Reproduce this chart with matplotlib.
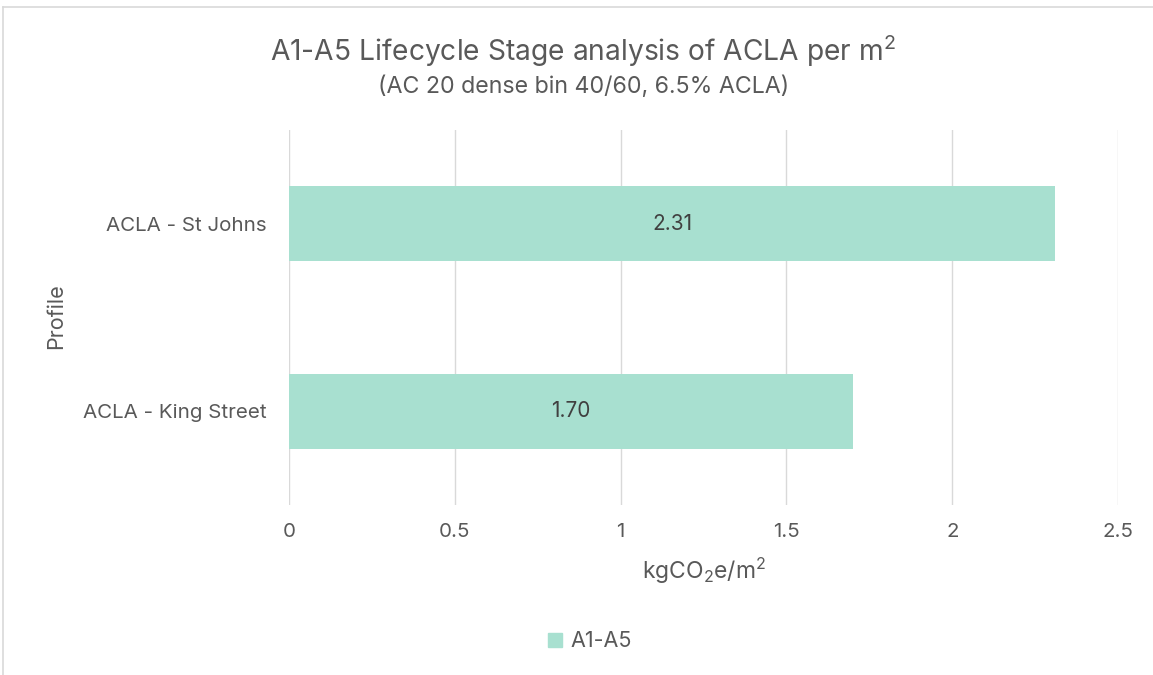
import matplotlib.pyplot as plt
from matplotlib.lines import Line2D
from matplotlib.patches import Patch

plt.rcParams['font.family'] = ['Inter', 'DejaVu Sans']
plt.rcParams['mathtext.fontset'] = 'custom'
plt.rcParams['mathtext.rm'] = 'Inter'

profiles = ['ACLA - King Street', 'ACLA - St Johns']
values = [1.70, 2.31]
xticks = [0, 0.5, 1, 1.5, 2, 2.5]
xticklabels = ['0', '0.5', '1', '1.5', '2', '2.5']

bar_color = '#A8E0D0'
text_color = '#595959'
grid_color = '#D9D9D9'

fig = plt.figure(figsize=(11.53, 6.75), dpi=100)
ax = fig.add_axes([0.2507, 0.252, 0.7190, 0.555])

ypos = list(range(len(profiles)))
ax.barh(ypos, values, height=0.4, color=bar_color, zorder=3)
for y, v in zip(ypos, values):
    ax.text(v / 2, y, '%.2f' % v, ha='center', va='center', fontsize=15, color='#404040', zorder=4)

ax.set_xlim(0, 2.5)
ax.set_ylim(-0.5, 1.5)
ax.set_xticks(xticks)
ax.set_xticklabels(xticklabels)
ax.set_yticks(ypos)
ax.set_yticklabels(profiles)
ax.tick_params(axis='both', length=0, labelsize=14.8, labelcolor=text_color)
ax.tick_params(axis='x', pad=13)
ax.tick_params(axis='y', pad=16)
ax.grid(axis='x', color=grid_color, linewidth=1, zorder=0)
for s in ax.spines.values():
    s.set_visible(False)

ax.set_xlabel('kgCO$\\mathrm{_2}$e/m$\\mathrm{^2}$', fontsize=16.5, color=text_color, labelpad=11)
fig.text(0.049, 0.531, 'Profile', rotation=90, ha='center', va='center', fontsize=15.5, color=text_color)

fig.text(0.506, 0.925, 'A1-A5 Lifecycle Stage analysis of ACLA per m$\\mathrm{^2}$', ha='center', va='center',
         fontsize=20.3, color=text_color)
fig.text(0.506, 0.872, '(AC 20 dense bin 40/60, 6.5% ACLA)', ha='center', va='center',
         fontsize=16.7, color=text_color)

fig.legend(handles=[Patch(color=bar_color, label='A1-A5')], loc='center', bbox_to_anchor=(0.512, 0.05),
           frameon=False, fontsize=15.5, labelcolor=text_color, handlelength=0.65, handleheight=0.65,
           handletextpad=0.4)

# outer chart frame (top and left edges visible)
fig.add_artist(Line2D([0.0026, 1], [0.99, 0.99], color=grid_color, linewidth=1.2))
fig.add_artist(Line2D([0.0026, 0.0026], [0, 0.99], color=grid_color, linewidth=1.2))

fig.savefig('out.png', dpi=100)
